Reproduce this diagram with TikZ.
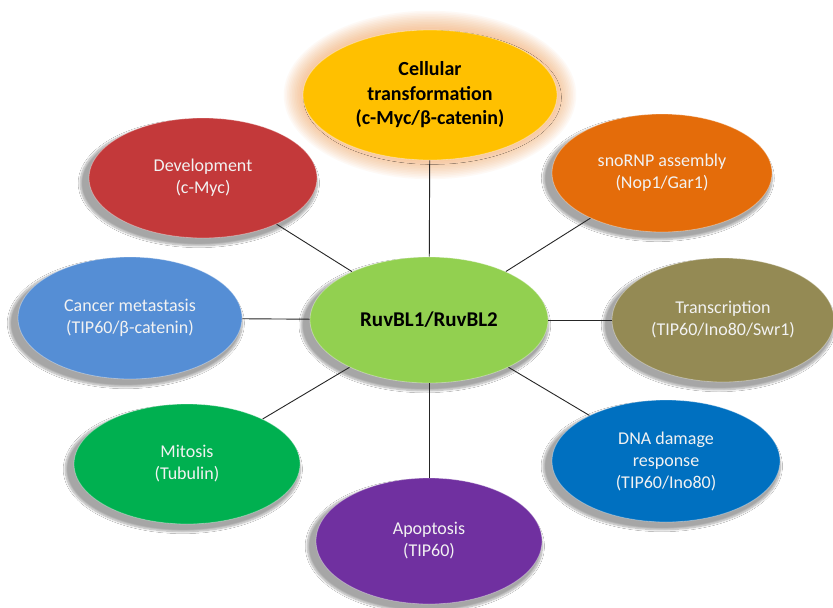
\documentclass[tikz,border=0pt]{standalone}
\usepackage{fontspec}
\setmainfont{Carlito}
\usetikzlibrary{shapes.geometric,shadows.blur}
\definecolor{cTop}{HTML}{FFC000}
\definecolor{cGlow}{HTML}{F79646}
\definecolor{cDev}{HTML}{C3393A}
\definecolor{cSno}{HTML}{E46C0A}
\definecolor{cCan}{HTML}{558ED5}
\definecolor{cCen}{HTML}{92D050}
\definecolor{cTra}{HTML}{948A54}
\definecolor{cMit}{HTML}{00B050}
\definecolor{cDna}{HTML}{0070C0}
\definecolor{cApo}{HTML}{7030A0}
\definecolor{cTxt}{HTML}{F2F2F2}
\begin{document}
\begin{tikzpicture}[x=1pt,y=-1pt,
  bub/.style={ellipse, inner sep=0pt, align=center,
    font=\fontsize{18}{22}\selectfont, text=cTxt,
    draw=white, draw opacity=0.35, line width=0.8pt,
    blur shadow={shadow xshift=-4pt, shadow yshift=-5pt, shadow scale=1.04,
      shadow blur steps=10, shadow opacity=35}},
  boldbub/.style={bub, text=black, font=\fontsize{20}{24.5}\selectfont\bfseries},
  link/.style={draw=black!85, line width=0.9pt}]
\useasboundingbox (0,0) rectangle (833,608);
\fill[white] (0,0) rectangle (833,608);
% glow of the top ellipse
\foreach \i in {1,...,12}
  \fill[cGlow, opacity=0.05] (430,95) ellipse ({127+1.6*\i} and {65+1.6*\i});
\node[boldbub, fill=cTop, blur shadow={shadow opacity=0}, minimum width=254pt, minimum height=130pt] (top) at (430,95) {Cellular\\transformation\\(c-Myc/β-catenin)};
\node[bub, fill=cDev, minimum width=228pt, minimum height=120pt] (dev) at (203,178) {Development\\(c-Myc)};
\node[bub, fill=cSno, minimum width=220pt, minimum height=118pt] (sno) at (662,173) {snoRNP assembly\\(Nop1/Gar1)};
\node[bub, fill=cCan, minimum width=224pt, minimum height=122pt] (can) at (130,318) {Cancer metastasis\\(TIP60/β-catenin)};
\node[boldbub, fill=cCen, font=\fontsize{21}{25}\selectfont\bfseries, minimum width=238pt, minimum height=126pt] (cen) at (429,320) {RuvBL1/RuvBL2};
\node[bub, fill=cTra, minimum width=222pt, minimum height=124pt] (tra) at (723,320) {Transcription\\(TIP60/Ino80/Swr1)};
\node[bub, fill=cMit, minimum width=226pt, minimum height=120pt] (mit) at (187,464) {Mitosis\\(Tubulin)};
\node[bub, fill=cDna, minimum width=228pt, minimum height=122pt] (dna) at (666,461) {DNA damage\\response\\(TIP60/Ino80)};
\node[bub, fill=cApo, minimum width=226pt, minimum height=126pt] (apo) at (429,541) {Apoptosis\\(TIP60)};
\foreach \n in {top,dev,sno,can,tra,mit,dna,apo}
  \draw[link] (cen) -- (\n);
\end{tikzpicture}
\end{document}
